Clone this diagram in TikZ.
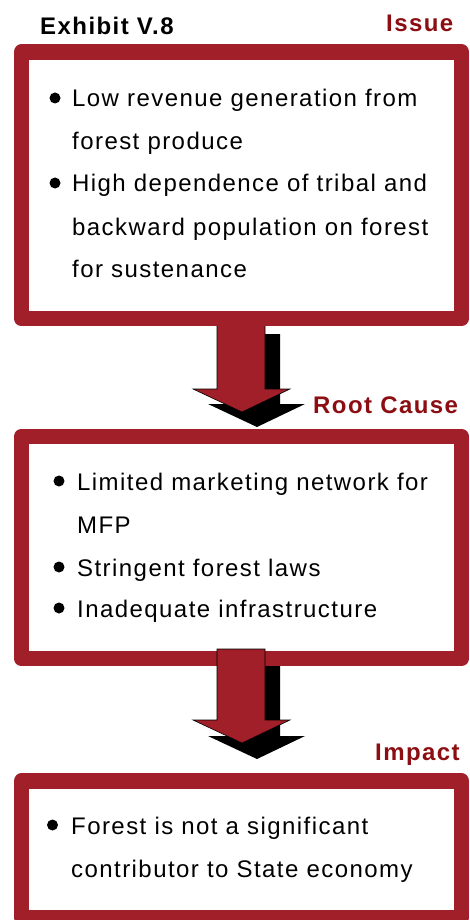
\documentclass[tikz,border=0pt]{standalone}
\usepackage{fontspec}
\setmainfont{Liberation Sans}[LetterSpace=6]
\definecolor{boxred}{RGB}{160,31,40}
\definecolor{labred}{RGB}{140,14,18}
\begin{document}
\begin{tikzpicture}[x=1pt,y=-1pt,
  frame/.style={draw=boxred,fill=white,line width=15.5pt,line join=round,rectangle,inner sep=0pt,minimum width=440pt},
  txt/.style={anchor=base west,inner sep=0pt,font=\fontsize{24}{28}\selectfont},
  lab/.style={anchor=base west,inner sep=0pt,font=\fontsize{24}{28}\selectfont\bfseries,text=labred},
  dot/.style={circle,fill=black,inner sep=0pt,minimum size=11pt},
  redarrow/.style={fill=boxred,draw=black,line width=0.6pt,line join=miter},
  shadowarrow/.style={fill=black}]
\useasboundingbox (0,0) rectangle (470,920);
\clip (0,0) rectangle (470,920);
% title and labels
\node[txt,font=\fontsize{24}{28}\selectfont\bfseries] (title) at (40,35) {Exhibit V.8};
\node[lab] (issue) at (386,32) {Issue};
\node[lab] (root) at (313,413) {Root Cause};
\node[lab] (impact) at (375,760) {Impact};
% arrow 1 (under box 1)
\path[shadowarrow,shift={(15,15)}] (217,319) -- (265,319) -- (265,389) -- (290,389) -- (242,412) -- (193,389) -- (217,389) -- cycle;
\path[redarrow] (217,319) -- (265,319) -- (265,389) -- (290,389) -- (242,412) -- (193,389) -- (217,389) -- cycle;
% box 1
\node[frame,minimum height=266.5pt] (box1) at (241.5,185.25) {};
% arrow 2 shadow, box 2, arrow 2
\path[shadowarrow,shift={(15,16)}] (217,649) -- (265,649) -- (265,720) -- (290,720) -- (242,743) -- (193,720) -- (217,720) -- cycle;
\node[frame,minimum height=222pt] (box2) at (241.5,547.5) {};
\path[redarrow] (217,649) -- (265,649) -- (265,720) -- (290,720) -- (242,743) -- (193,720) -- (217,720) -- cycle;
% box 3
\node[frame,minimum height=136.5pt] (box3) at (241.5,849.25) {};
% box 1 text
\node[dot] (b11) at (55,98) {};
\node[txt] (t11) at (72,107) {Low revenue generation from};
\node[txt] (t12) at (72,150) {forest produce};
\node[dot] (b12) at (55,183) {};
\node[txt] (t13) at (72,192) {High dependence of tribal and};
\node[txt] (t14) at (72,235) {backward population on forest};
\node[txt] (t15) at (72,277) {for sustenance};
% box 2 text
\node[dot] (b21) at (59,481) {};
\node[txt] (t21) at (77,490) {Limited marketing network for};
\node[txt] (t22) at (77,533) {MFP};
\node[dot] (b22) at (59,567) {};
\node[txt] (t23) at (77,576) {Stringent forest laws};
\node[dot] (b23) at (59,608) {};
\node[txt] (t24) at (77,617) {Inadequate infrastructure};
% box 3 text
\node[dot] (b31) at (52.5,825) {};
\node[txt] (t31) at (71,834) {Forest is not a significant};
\node[txt] (t32) at (71,877) {contributor to State economy};
\end{tikzpicture}
\end{document}
